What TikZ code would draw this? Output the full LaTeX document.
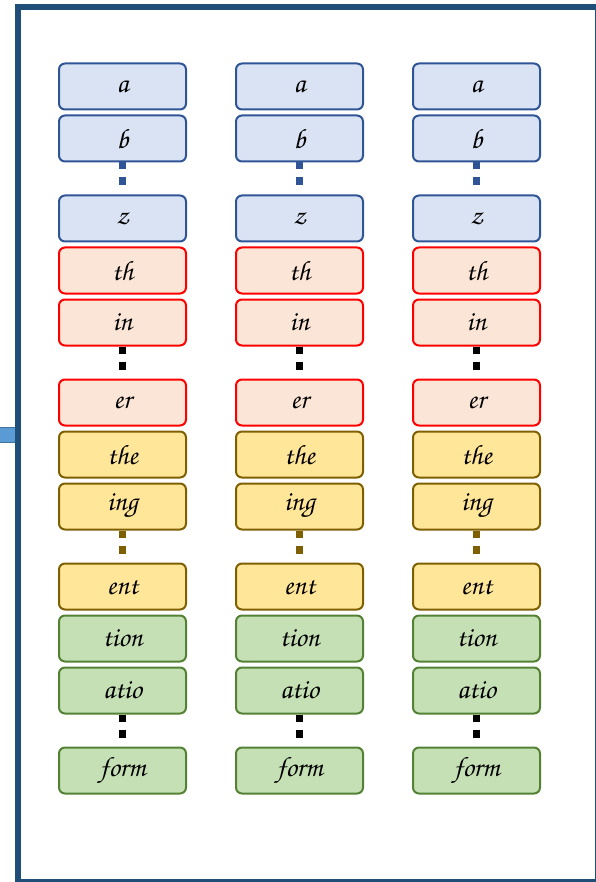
\documentclass[tikz,border=0pt]{standalone}
\usepackage[T1,TU]{fontenc}
\usepackage{tikz}
\usetikzlibrary{positioning}
\usepackage{xcolor}

\definecolor{frameblue}{HTML}{1F4E79}
\definecolor{stubblue}{HTML}{5B9BD5}
\definecolor{stubline}{HTML}{41719C}
\definecolor{uniline}{HTML}{2F5597}
\definecolor{unifill}{HTML}{DAE3F3}
\definecolor{bifill}{HTML}{FBE5D6}
\definecolor{triline}{HTML}{7F6000}
\definecolor{trifill}{HTML}{FFE699}
\definecolor{quadline}{HTML}{548235}
\definecolor{quadfill}{HTML}{C5E0B4}

\newcommand{\hand}{\fontencoding{T1}\fontfamily{pzc}\fontseries{mb}\fontshape{it}\fontsize{28}{30}\selectfont}

\begin{document}
\begin{tikzpicture}[x=1pt, y=-1pt,
  token/.style={draw, rounded corners=6pt, line width=2pt, minimum width=127pt, minimum height=46pt, inner sep=0pt, font=\hand},
  uni/.style={token, fill=unifill, draw=uniline},
  bi/.style={token, fill=bifill, draw=red},
  tri/.style={token, fill=trifill, draw=triline},
  quad/.style={token, fill=quadfill, draw=quadline},
  gap/.style={line width=6.5pt, dash pattern=on 7pt off 8pt on 8pt off 20pt}
]
  \useasboundingbox (0,0) rectangle (595,882);

  % stub coming in from the left, behind the frame
  \draw[fill=stubblue, draw=stubline, line width=1pt] (-3,427) rectangle (17,442);
  \draw[frameblue, line width=6pt] (18,7) rectangle (597.5,882);

  \foreach \x/\c in {122.5/1, 299.5/2, 476.5/3} {
    \node[uni] (a\c) at (\x,86.5) {a};
    \node[uni] (b\c) at (\x,138.5) {b};
    \node[uni] (z\c) at (\x,218.5) {z};
    \node[bi] (th\c) at (\x,270.5) {th};
    \node[bi] (in\c) at (\x,322.5) {in};
    \node[bi] (er\c) at (\x,402.5) {er};
    \node[tri] (the\c) at (\x,454.5) {the};
    \node[tri] (ing\c) at (\x,506.5) {ing};
    \node[tri] (ent\c) at (\x,586.5) {ent};
    \node[quad] (tion\c) at (\x,638.5) {tion};
    \node[quad] (atio\c) at (\x,690.5) {atio};
    \node[quad] (form\c) at (\x,770.5) {form};

    \draw[gap, uniline] (b\c.south) -- (z\c.north);
    \draw[gap, black] (in\c.south) -- (er\c.north);
    \draw[gap, triline] (ing\c.south) -- (ent\c.north);
    \draw[gap, black] (atio\c.south) -- (form\c.north);
  }
\end{tikzpicture}
\end{document}
